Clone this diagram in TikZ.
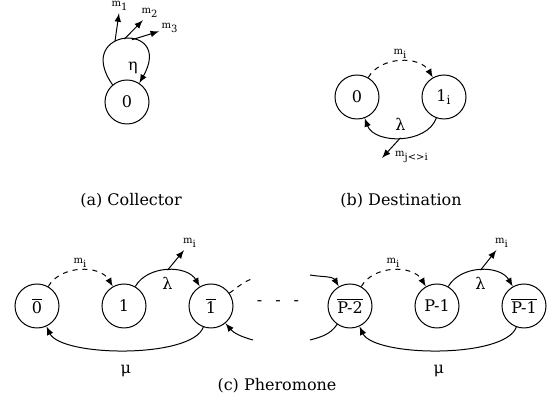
\documentclass[tikz,border=0pt]{standalone}
\usepackage{fontspec}
\setmainfont{DejaVu Serif}
\usepackage{tikz}
\usetikzlibrary{arrows}
\newcommand{\msgsize}{\fontsize{5}{6}\selectfont}
\newcommand{\nodesize}{\fontsize{8}{9.6}\selectfont}
\newcommand{\ovl}[1]{$\overline{\mbox{#1}}$}
\tikzstyle{state} = [circle, minimum size=22pt, inner sep=0pt, draw=black, font=\nodesize]
\tikzstyle{trans} = [->,>=latex]
\tikzstyle{msgflow} = [->,>=latex, dash pattern=on 2.5pt off 2.5pt]
\tikzstyle{msg} = [inner sep=1pt, font=\msgsize]
\tikzstyle{rate} = [font=\nodesize]
\tikzstyle{caption} = [font=\nodesize]

\begin{document}
\begin{tikzpicture}[x=0.5pt, y=0.5pt, node distance=43.5pt, line width=0.5pt]
\useasboundingbox (0,0) rectangle (553,401);

% (a) Collector
\node (c0) [state] at (127,299) {0};
\draw [trans] (c0.130) .. controls +(125:70) and +(60:72) .. (c0.57)
    coordinate[pos=0.4] (l1) coordinate[pos=0.5] (l2) coordinate[pos=0.58] (l3);
\node (eta) [rate] at (133,333) {η};
\node (m1) [msg] at (120,395) {m\textsubscript{1}};
\node (m2) [msg] at (150,388) {m\textsubscript{2}};
\node (m3) [msg] at (170,373) {m\textsubscript{3}};
\draw [trans] (l1) -- (m1);
\draw [trans] (l2) -- (m2);
\draw [trans] (l3) -- (m3);
\node (capa) [caption] at (131,200) {(a) Collector};

% (b) Destination
\node (d0) [state] at (357,304) {0};
\node (d1) [state, right of=d0] {1\textsubscript{i}};
\draw [msgflow] (d0) to[bend left=60] node[msg, above] (dmi) {m\textsubscript{i}} (d1);
\draw [trans] (d1) to[bend left=70] node[rate, above] (dlam) {λ} coordinate[midway] (dl) (d0);
\coordinate (dout) at (382,243);
\node (mji) [msg] at (412,244) {m\textsubscript{j<>i}};
\draw [trans] (dl) -- (dout);
\node (capb) [caption] at (401,200) {(b) Destination};

% (c) Pheromone
\node (p0) [state] at (37,95) {\ovl{0}};
\node (p1) [state, right of=p0] {1};
\node (p1b) [state, right of=p1] {\ovl{1}};
\node (dots) [rate] at (278,98) {-\hspace{6.5pt}-\hspace{6.5pt}-};
\node (pP2) [state] at (350,95) {\ovl{P-2}};
\node (pP1) [state, right of=pP2] {P-1};
\node (pP1b) [state, right of=pP1] {\ovl{P-1}};

\draw [msgflow] (p0) to[bend left=60] node[msg, above] {m\textsubscript{i}} (p1);
\draw [trans] (p1) to[bend left=60] node[rate, below] {λ} coordinate[midway] (pl1) (p1b);
\node (pm1) [msg] at (190,158) {m\textsubscript{i}};
\draw [trans] (pl1) -- (pm1);
\draw [trans] (p1b) to[out=250, in=295, looseness=0.55] node[rate, below=4pt] {μ} (p0);
\coordinate (in1) at (253,61);
\coordinate (out1) at (255,123);
\draw [trans] (in1) to[out=165, in=-50] (p1b);
\draw [dash pattern=on 2.5pt off 2.5pt] (p1b) to[out=35, in=195] (out1);

\coordinate (inP) at (310,126);
\coordinate (outP) at (310,61);
\draw [trans] (inP) to[out=-10, in=120] (pP2);
\draw (pP2) to[out=235, in=15] (outP);
\draw [msgflow] (pP2) to[bend left=60] node[msg, above] {m\textsubscript{i}} (pP1);
\draw [trans] (pP1) to[bend left=60] node[rate, below] {λ} coordinate[midway] (pl2) (pP1b);
\node (pm2) [msg] at (502,158) {m\textsubscript{i}};
\draw [trans] (pl2) -- (pm2);
\draw [trans] (pP1b) to[out=250, in=295, looseness=0.55] node[rate, below=4pt] {μ} (pP2);
\node (capc) [caption] at (277,15) {(c) Pheromone};
\end{tikzpicture}
\end{document}
